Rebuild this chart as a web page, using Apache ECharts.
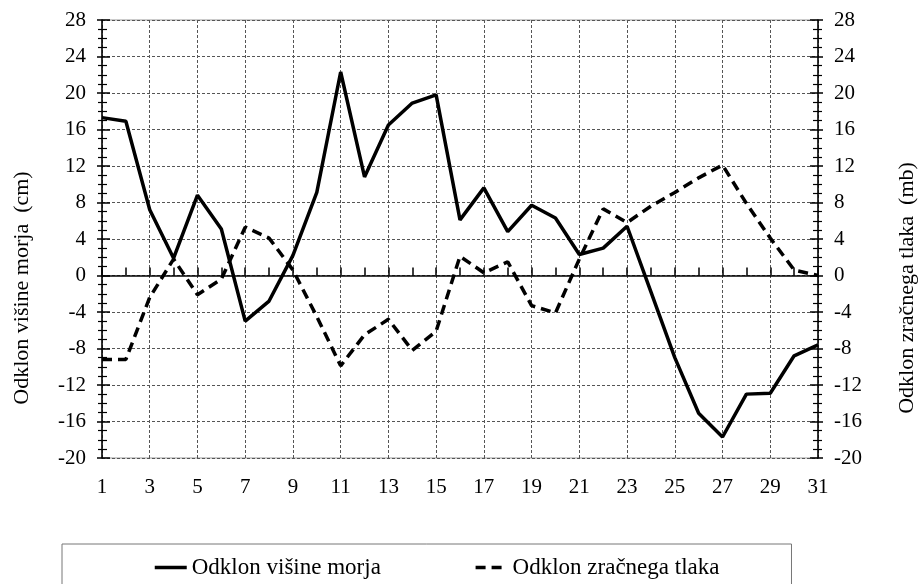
<!DOCTYPE html>
<html>
<head>
<meta charset="utf-8">
<script src="https://cdn.jsdelivr.net/npm/echarts@6/dist/echarts.min.js"></script>
<style>
  html, body { margin: 0; padding: 0; background: #fff; }
  #main { width: 919px; height: 584px; }
</style>
</head>
<body>
<div id="main"></div>
<script>
// dnevi v mesecu
var days = [1, 2, 3, 4, 5, 6, 7, 8, 9, 10, 11, 12, 13, 14, 15, 16, 17, 18, 19, 20,
  21, 22, 23, 24, 25, 26, 27, 28, 29, 30, 31];
// odklon višine morja (cm)
var seaLevel = [17.3, 16.9, 7.2, 1.9, 8.8, 5.1, -5.0, -2.8, 2.2, 9.1, 22.3, 10.8, 16.5, 18.9, 19.8,
  6.1, 9.6, 4.8, 7.7, 6.3, 2.3, 3.0, 5.4, -1.8, -9.0, -15.1, -17.7, -13.0, -12.9, -8.8, -7.6];
// odklon zračnega tlaka (mb)
var airPressure = [-9.2, -9.2, -2.4, 1.8, -2.1, -0.4, 5.3, 4.1, 0.6, -4.5, -9.9, -6.5, -4.8, -8.2, -6.1,
  2.1, 0.3, 1.5, -3.3, -4.1, 1.8, 7.3, 5.8, 7.6, 9.1, 10.7, 12.1, 7.9, 4.1, 0.6, 0.0];
var seriesNames = ["Odklon višine morja", "Odklon zračnega tlaka"];
var axisNames = ["Odklon višine morja  (cm)", "Odklon zračnega tlaka  (mb)"];

var font = "Liberation Serif";
var yMin = -20, yMax = 28, yStep = 4;

function valueAxis(pos, withLabels, inside, name) {
  return {
    type: "value",
    position: pos,
    min: yMin,
    max: yMax,
    interval: yStep,
    name: name || "",
    nameLocation: "middle",
    nameRotate: 90,
    nameGap: pos === "left" ? 69 : 78,
    nameTextStyle: {
      fontFamily: font, fontSize: 22, color: "#000",
      padding: [0, 98, 0, 0]
    },
    axisLine: { show: withLabels, onZero: false, lineStyle: { color: "#000", width: 1.5 } },
    axisTick: { show: true, inside: inside, length: inside ? 8 : 5, lineStyle: { color: "#000", width: 1.5 } },
    minorTick: { show: true, splitNumber: 4, length: inside ? 5 : 4, lineStyle: { color: "#000", width: 1.2 } },
    axisLabel: { show: withLabels, margin: 16, fontFamily: font, fontSize: 21, color: "#000" },
    splitLine: {
      show: withLabels && pos === "left",
      lineStyle: { color: "#555", type: [3, 2], width: 1 }
    }
  };
}

var options = {
  backgroundColor: "#fff",
  animation: false,
  grid: {
    left: 102, right: 101, top: 20, bottom: 126,
    outerBoundsMode: "none",
    containLabel: false,
    show: true, borderColor: "#999", borderWidth: 1
  },
  legend: {
    left: 62,
    top: 544,
    padding: [12, 72, 20, 91],
    itemGap: 93,
    itemWidth: 32,
    itemHeight: 14,
    borderColor: "#777",
    borderWidth: 1,
    itemStyle: { opacity: 0 },
    lineStyle: { width: 3.5 },
    textStyle: { fontFamily: font, fontSize: 23, color: "#000" },
    data: seriesNames
  },
  xAxis: [
    {
      type: "value",
      position: "bottom",
      min: 1,
      max: 31,
      interval: 2,
      axisLine: { show: false, onZero: false },
      axisTick: { show: false },
      axisLabel: { margin: 19, fontFamily: font, fontSize: 21, color: "#000" },
      splitLine: { show: true, lineStyle: { color: "#555", type: [3, 2], width: 1 } }
    },
    {
      type: "value",
      position: "top",
      min: 1,
      max: 31,
      interval: 1,
      axisLine: { show: true, onZero: true, onZeroAxisIndex: 0, lineStyle: { color: "#000", width: 1.5 } },
      axisTick: { show: true, length: 8, lineStyle: { color: "#000", width: 1.5 } },
      axisLabel: { show: false },
      splitLine: { show: false }
    }
  ],
  yAxis: [
    valueAxis("left", true, false, axisNames[0]),
    valueAxis("right", true, false, axisNames[1]),
    valueAxis("left", false, true),
    valueAxis("right", false, true)
  ],
  series: [
    {
      name: seriesNames[0],
      type: "line",
      xAxisIndex: 0,
      yAxisIndex: 0,
      showSymbol: false,
      symbol: "none",
      data: days.map(function (d, i) { return [d, seaLevel[i]]; }),
      lineStyle: { color: "#000", width: 3.5 },
      itemStyle: { color: "#000" }
    },
    {
      name: seriesNames[1],
      type: "line",
      xAxisIndex: 0,
      yAxisIndex: 1,
      showSymbol: false,
      symbol: "none",
      data: days.map(function (d, i) { return [d, airPressure[i]]; }),
      lineStyle: { color: "#000", width: 3.5, type: [10, 6] },
      itemStyle: { color: "#000" }
    }
  ]
};

var chart = echarts.init(document.getElementById("main"));
chart.setOption(options);
</script>
</body>
</html>
